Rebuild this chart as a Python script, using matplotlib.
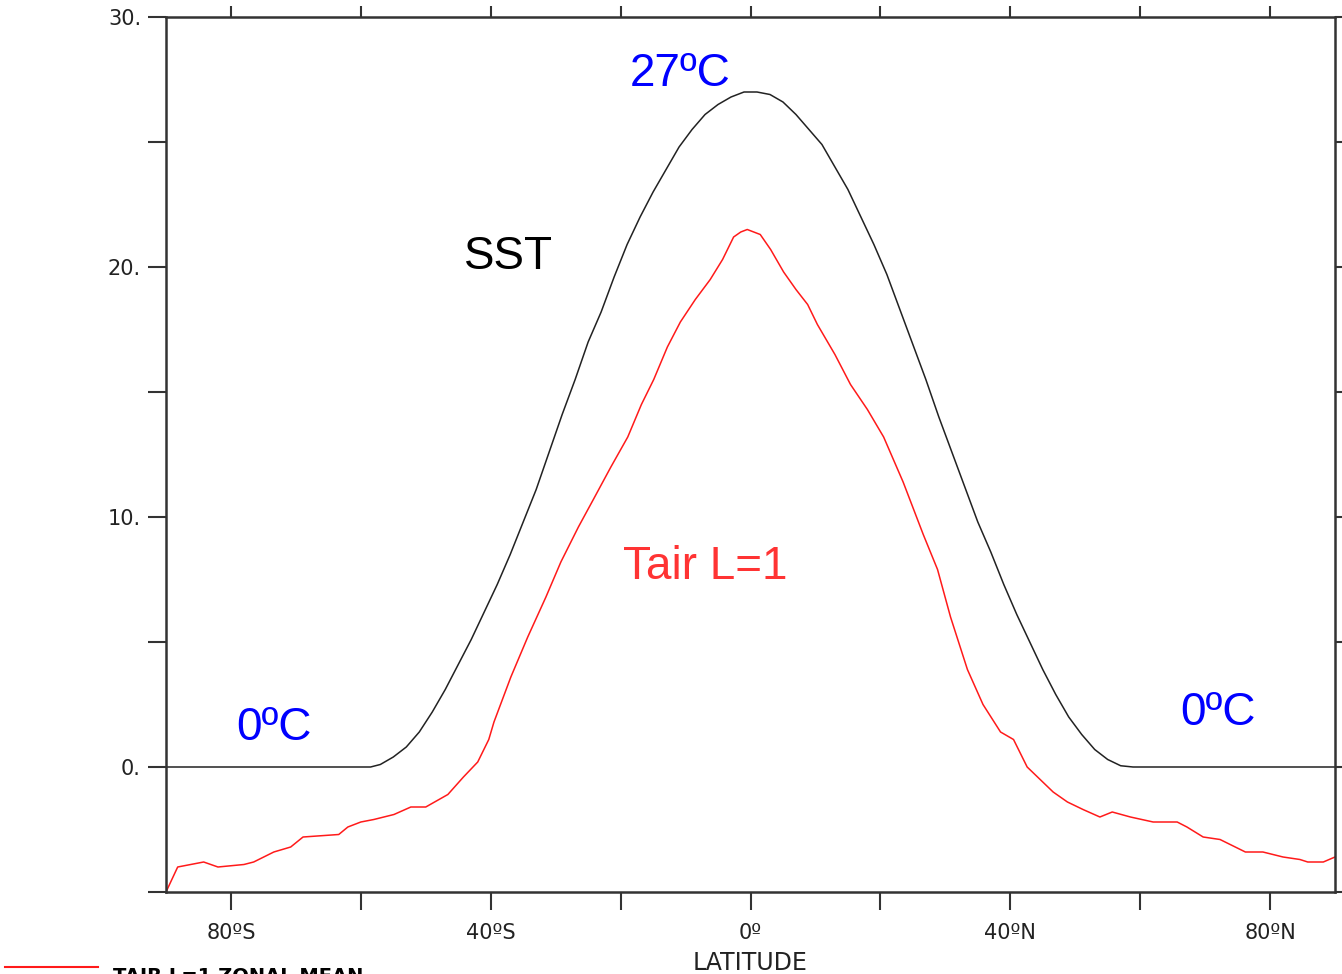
import numpy as np
import matplotlib
matplotlib.use("Agg")
import matplotlib.pyplot as plt
from matplotlib.lines import Line2D

# zonal mean SST (degC)
sst_lat = [-90, -58.5, -57, -55, -53, -51, -49, -47, -45, -43, -41, -39, -37, -35,
           -33, -31, -29, -27, -25, -23, -21, -19, -17, -15, -13, -11, -9, -7,
           -5, -3, -1, 0, 1, 3, 5, 7, 9, 11, 13, 15, 17, 19, 21, 23, 25, 27, 29,
           31, 33, 35, 37, 39, 41, 43, 45, 47, 49, 51, 53, 55, 57, 58.9, 90]
sst_val = [0, 0, 0.1, 0.4, 0.8, 1.4, 2.2, 3.1, 4.1, 5.1, 6.2, 7.3, 8.5, 9.8,
           11.1, 12.6, 14.1, 15.5, 17.0, 18.2, 19.6, 20.9, 22.0, 23.0, 23.9, 24.8,
           25.5, 26.1, 26.5, 26.8, 27.0, 27.0, 27.0, 26.9, 26.6, 26.1, 25.5, 24.9,
           24.0, 23.1, 22.0, 20.9, 19.7, 18.3, 16.9, 15.5, 14.0, 12.6, 11.2, 9.8,
           8.6, 7.3, 6.1, 5.0, 3.9, 2.9, 2.0, 1.3, 0.7, 0.3, 0.05, 0, 0]

# surface air temperature, L=1
tair_lat = [-90, -88.2, -84.2, -82.0, -78.0, -76.5, -73.4, -70.8, -68.9, -63.4,
            -62.0, -60.0, -58.0, -54.9, -52.3, -50.0, -46.6, -44.2, -42.0, -40.3,
            -39.5, -36.9, -34.3, -31.5, -29.2, -26.5, -24.2, -21.5, -18.9, -16.8,
            -14.9, -12.8, -10.8, -8.5, -6.2, -4.3, -2.6, -1.5, -0.5, 0.5, 1.5,
            3.1, 5.1, 7.0, 8.8, 10.3, 13.0, 15.4, 18.0, 20.5, 23.5, 26.6, 28.8,
            30.8, 33.4, 35.8, 38.5, 40.5, 42.6, 44.2, 46.6, 48.8, 51.2, 53.8,
            55.7, 58.5, 62.0, 65.7, 67.2, 69.7, 72.3, 76.2, 78.9, 82.0, 84.6,
            85.8, 88.2, 90]
tair_val = [-5.0, -4.0, -3.8, -4.0, -3.9, -3.8, -3.4, -3.2, -2.8, -2.7,
            -2.4, -2.2, -2.1, -1.9, -1.6, -1.6, -1.1, -0.4, 0.2, 1.1,
            1.8, 3.6, 5.2, 6.8, 8.2, 9.6, 10.7, 12.0, 13.2, 14.5,
            15.5, 16.8, 17.8, 18.7, 19.5, 20.3, 21.2, 21.4, 21.5, 21.4, 21.3,
            20.7, 19.8, 19.1, 18.5, 17.7, 16.5, 15.3, 14.3, 13.2, 11.4, 9.3, 7.9,
            6.0, 3.9, 2.5, 1.4, 1.1, 0.0, -0.4, -1.0, -1.4, -1.7, -2.0,
            -1.8, -2.0, -2.2, -2.2, -2.4, -2.8, -2.9, -3.4, -3.4, -3.6, -3.7,
            -3.8, -3.8, -3.6]

xticks = [-80, -60, -40, -20, 0, 20, 40, 60, 80]
xlabels = ["80ºS", "", "40ºS", "", "0º", "", "40ºN", "", "80ºN"]
yticks = [-5, 0, 5, 10, 15, 20, 25, 30]
ylabels = ["", "0.", "", "10.", "", "20.", "", "30."]

fig = plt.figure(figsize=(13.42, 9.74), dpi=100)
ax = fig.add_axes([166 / 1342, 82 / 974, 1169 / 1342, 875 / 974])

ax.plot(sst_lat, sst_val, color="#222222", lw=1.1)
ax.plot(tair_lat, tair_val, color="#ff1a1a", lw=1.1)

ax.set_xlim(-90, 90)
ax.set_ylim(-5, 30)
ax.set_xticks(xticks)
ax.set_xticklabels(xlabels)
ax.set_yticks(yticks)
ax.set_yticklabels(ylabels)

for sp in ax.spines.values():
    sp.set_linewidth(1.8)
    sp.set_color("#333333")

ax.tick_params(axis="both", which="major", direction="out", length=13, width=1.5,
               color="#333333", labelsize=15, labelcolor="#222222",
               top=True, right=True)
ax.tick_params(axis="x", pad=9)
ax.tick_params(axis="y", pad=5)
# top ticks are shorter than the bottom ones
for t in ax.xaxis.get_major_ticks():
    t.tick2line.set_markersize(8)

ax.set_xlabel("LATITUDE", fontsize=17, color="#222222", labelpad=6)

txt = dict(family="Liberation Sans", fontsize=33)
ax.text(-10.8, 27.7, "27ºC", color="#0000ff", ha="center", va="center", **txt)
ax.text(-37.2, 20.4, "SST", color="black", ha="center", va="center", **txt)
ax.text(-7.0, 8.0, "Tair L=1", color="#ff3333", ha="center", va="center", **txt)
ax.text(-73.4, 1.55, "0ºC", color="#0000ff", ha="center", va="center", **txt)
ax.text(72.0, 2.15, "0ºC", color="#0000ff", ha="center", va="center", **txt)

# clipped legend strip at the very bottom
fig.add_artist(Line2D([5 / 1342, 98 / 1342], [7 / 974, 7 / 974], color="#ff1a1a", lw=1.5))
fig.text(113 / 1342, -12 / 974, "TAIR L=1 ZONAL MEAN", fontsize=14,
         fontweight="bold", color="black", ha="left", va="bottom")

fig.savefig("out.png", dpi=100)
